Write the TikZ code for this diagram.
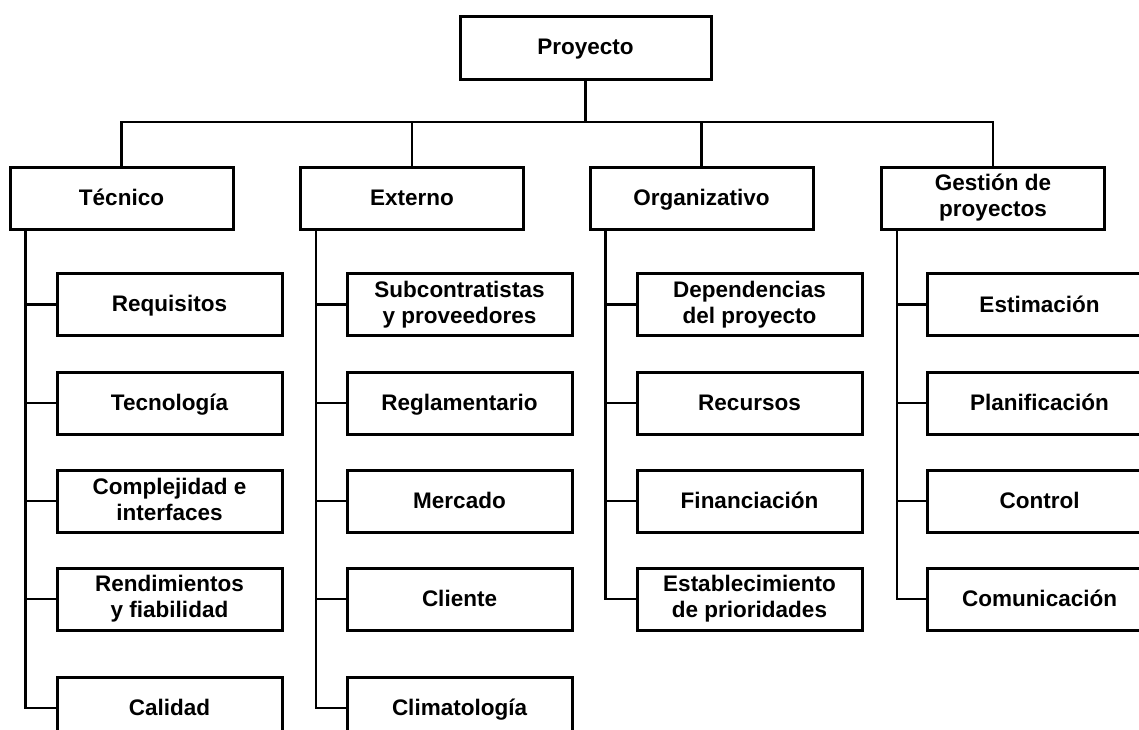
\documentclass[tikz,border=0pt]{standalone}
\usepackage{fontspec}
\setmainfont{Liberation Sans}
\usepackage{tikz}

\begin{document}
\begin{tikzpicture}[x=1pt, y=-1pt,
    box/.style={draw, line width=3pt, inner sep=0pt, align=center,
        font=\fontsize{22.5}{26}\selectfont\bfseries,
        execute at begin node={\rule[-3.6pt]{0pt}{22.6pt}},
        execute at end node={\rule[-3.6pt]{0pt}{22.6pt}}},
    topbox/.style={box, minimum width=223pt, minimum height=62pt},
    leafbox/.style={box, minimum width=225pt, minimum height=62pt},
    link/.style={line width=2.2pt}]
    \useasboundingbox (0, 0) rectangle (1139, 729);
    \clip (0, 0) rectangle (1139, 729);
    \node [box, minimum width=251pt, minimum height=63pt] (proy) at (585.5, 47.5) {Proyecto};
    % first level
    \node [topbox] (tec) at (121.5, 198) {Técnico};
    \node [topbox] (ext) at (412, 198) {Externo};
    \node [topbox] (org) at (701.5, 198) {Organizativo};
    \node [topbox] (ges) at (993, 198) {Gestión de\\proyectos};
    \coordinate (bus) at (0, 122);
    \draw [link] (proy.south) to (proy.south |- bus);
    \draw [link] (tec.north) |- (ges.north |- bus) -- (ges.north);
    \draw [link] (ext.north) to (ext.north |- bus);
    \draw [link] (org.north) to (org.north |- bus);
    % tecnico
    \node [leafbox] (req) at (169.5, 304.5) {Requisitos};
    \node [leafbox] (tecn) at (169.5, 403) {Tecnología};
    \node [leafbox] (comp) at (169.5, 501) {Complejidad e\\interfaces};
    \node [leafbox] (rend) at (169.5, 599) {Rendimientos\\y fiabilidad};
    \node [leafbox] (cal) at (169.5, 708) {Calidad};
    % externo
    \node [leafbox] (sub) at (459.5, 304.5) {Subcontratistas\\y proveedores};
    \node [leafbox] (regl) at (459.5, 403) {Reglamentario};
    \node [leafbox] (merc) at (459.5, 501) {Mercado};
    \node [leafbox] (cli) at (459.5, 599) {Cliente};
    \node [leafbox] (clim) at (459.5, 708) {Climatología};
    % organizativo
    \node [leafbox] (dep) at (749.5, 304.5) {Dependencias\\del proyecto};
    \node [leafbox] (rec) at (749.5, 403) {Recursos};
    \node [leafbox] (fin) at (749.5, 501) {Financiación};
    \node [leafbox] (est) at (749.5, 599) {Establecimiento\\de prioridades};
    % gestion de proyectos
    \node [leafbox] (esti) at (1039.5, 304.5) {Estimación};
    \node [leafbox] (plan) at (1039.5, 403) {Planificación};
    \node [leafbox] (ctrl) at (1039.5, 501) {Control};
    \node [leafbox] (com) at (1039.5, 599) {Comunicación};
    % spines
    \coordinate (sTec) at ([xshift=17pt]tec.south west);
    \coordinate (sExt) at ([xshift=17pt]ext.south west);
    \coordinate (sOrg) at ([xshift=17pt]org.south west);
    \coordinate (sGes) at ([xshift=17pt]ges.south west);
    \draw [link] (sTec) |- (cal.west);
    \draw [link] (sExt) |- (clim.west);
    \draw [link] (sOrg) |- (est.west);
    \draw [link] (sGes) |- (com.west);
    \foreach \n in {req, tecn, comp, rend}
        \draw [link] (\n.west) to (\n.west -| sTec);
    \foreach \n in {sub, regl, merc, cli}
        \draw [link] (\n.west) to (\n.west -| sExt);
    \foreach \n in {dep, rec, fin}
        \draw [link] (\n.west) to (\n.west -| sOrg);
    \foreach \n in {esti, plan, ctrl}
        \draw [link] (\n.west) to (\n.west -| sGes);
\end{tikzpicture}
\end{document}
